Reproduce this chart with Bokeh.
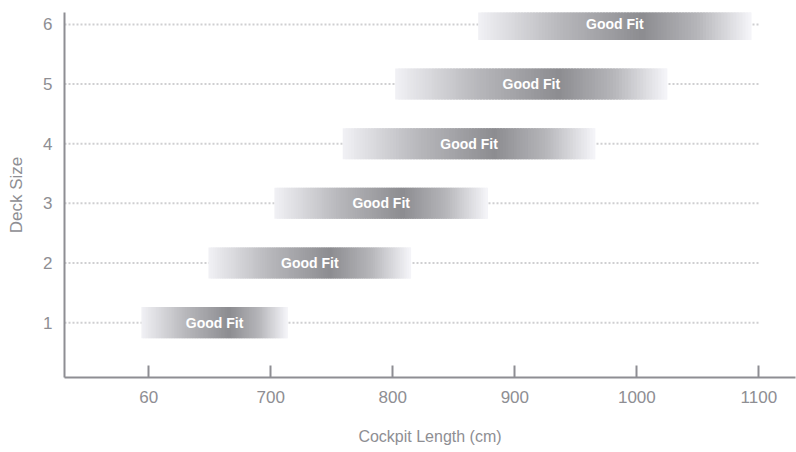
from bokeh.plotting import figure
from bokeh.models import Range1d, FixedTicker, ColumnDataSource
from bokeh.core.properties import value
from bokeh.embed import file_html
from bokeh.resources import INLINE

# ---- data ----
deck_sizes = [1, 2, 3, 4, 5, 6]
fit_start = [594, 649, 703, 759, 802, 870]
fit_end = [714, 815, 878, 966, 1025, 1094]
bar_labels = ["Good Fit"] * 6
x_ticks = [600, 700, 800, 900, 1000, 1100]
x_tick_labels = ["60", "700", "800", "900", "1000", "1100"]
y_tick_labels = ["1", "2", "3", "4", "5", "6"]

FONT = "Liberation Sans"
GRAY = "#8e8e93"

p = figure(width=796, height=452, output_backend="svg", toolbar_location=None,
           x_range=Range1d(531, 1130), y_range=Range1d(0.08, 6.2),
           min_border_left=64, min_border_right=1, min_border_top=12,
           min_border_bottom=75)
p.outline_line_color = None
p.xgrid.visible = False
p.ygrid.visible = False
p.background_fill_color = "white"

# dotted guide lines
p.segment(x0=[p.x_range.start] * len(deck_sizes), x1=[max(x_ticks)] * len(deck_sizes),
          y0=deck_sizes, y1=deck_sizes, line_color="#cfcfd1", line_width=2,
          line_dash="2 2")

# gradient bars built from overlapping strips
def shade(f):
    stops = [(0.0, 0.945), (0.3, 0.72), (0.6, 0.55), (0.8, 0.71), (1.0, 0.965)]
    for (a, va), (b, vb) in zip(stops[:-1], stops[1:]):
        if a <= f <= b:
            v = va + (vb - va) * (f - a) / (b - a)
            break
    g = int(round(v * 255))
    return "#%02x%02x%02x" % (g, g, min(255, g + 4))

N = 90
q = dict(left=[], right=[], top=[], bottom=[], color=[])
half = 0.26
for y, s, e in zip(deck_sizes, fit_start, fit_end):
    w = e - s
    for k in range(N):
        f0 = k / N
        f1 = min(1.0, (k + 1.8) / N)
        q["left"].append(s + f0 * w)
        q["right"].append(s + f1 * w)
        q["top"].append(y + half)
        q["bottom"].append(y - half)
        q["color"].append(shade((k + 0.5) / N))
p.quad(source=ColumnDataSource(q), left="left", right="right", top="top",
       bottom="bottom", fill_color="color", line_color=None)

p.text(x=[(s + e) / 2 for s, e in zip(fit_start, fit_end)], y=deck_sizes,
       text=bar_labels, text_color="white", text_font=value(FONT),
       text_font_style="bold", text_font_size="14px", text_align="center",
       text_baseline="middle")

# axes
xa = p.xaxis[0]
xa.ticker = FixedTicker(ticks=x_ticks)
xa.major_label_overrides = {t: l for t, l in zip(x_ticks, x_tick_labels)}
xa.axis_label = "Cockpit Length (cm)"
xa.axis_line_color = GRAY
xa.axis_line_width = 2
xa.major_tick_line_color = GRAY
xa.major_tick_line_width = 2
xa.major_tick_in = 12
xa.major_tick_out = 0
xa.minor_tick_line_color = None
xa.major_label_standoff = 13
xa.major_label_text_font = FONT
xa.major_label_text_font_size = "17px"
xa.major_label_text_color = GRAY
xa.axis_label_text_font = FONT
xa.axis_label_text_font_size = "16px"
xa.axis_label_text_font_style = "normal"
xa.axis_label_text_color = GRAY
xa.axis_label_standoff = 22

ya = p.yaxis[0]
ya.ticker = FixedTicker(ticks=deck_sizes)
ya.major_label_overrides = {t: l for t, l in zip(deck_sizes, y_tick_labels)}
ya.axis_label = "Deck Size"
ya.axis_line_color = GRAY
ya.axis_line_width = 2
ya.major_tick_line_color = None
ya.major_tick_in = 0
ya.major_tick_out = 0
ya.minor_tick_line_color = None
ya.major_label_standoff = 12
ya.major_label_text_font = FONT
ya.major_label_text_font_size = "17px"
ya.major_label_text_color = GRAY
ya.axis_label_text_font = FONT
ya.axis_label_text_font_size = "17px"
ya.axis_label_text_font_style = "normal"
ya.axis_label_text_color = GRAY
ya.axis_label_standoff = 14

open("out.html", "w").write(file_html(p, INLINE))
